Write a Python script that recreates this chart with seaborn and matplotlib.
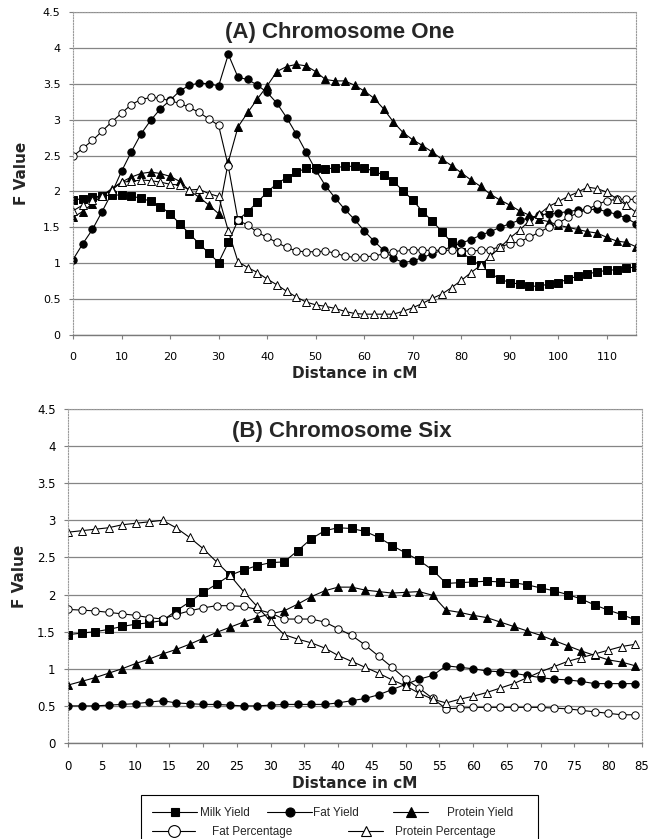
import numpy as np
import pandas as pd
import matplotlib
matplotlib.use("Agg")
import matplotlib.pyplot as plt
from matplotlib.lines import Line2D
from matplotlib.patches import Rectangle
import seaborn as sns

# positions in cM (markers every 2 cM)
pos_a = list(range(0, 117, 2))
pos_b = list(range(0, 85, 2))

series_names = ["Milk Yield", "Fat Yield", "Protein Yield", "Fat Percentage", "Protein Percentage"]

# (A) chromosome one
milk_a = [1.88, 1.90, 1.92, 1.94, 1.95, 1.95, 1.93, 1.91, 1.86, 1.79,
          1.69, 1.55, 1.41, 1.27, 1.14, 1.01, 1.29, 1.60, 1.72, 1.85,
          1.99, 2.11, 2.19, 2.27, 2.32, 2.32, 2.31, 2.33, 2.35, 2.35,
          2.33, 2.28, 2.23, 2.14, 2.01, 1.88, 1.72, 1.59, 1.44, 1.29,
          1.16, 1.05, 0.97, 0.86, 0.78, 0.73, 0.71, 0.68, 0.68, 0.71,
          0.73, 0.78, 0.82, 0.85, 0.88, 0.90, 0.91, 0.93, 0.95]
fat_a = [1.05, 1.27, 1.47, 1.72, 1.98, 2.28, 2.55, 2.80, 2.99, 3.15,
         3.27, 3.40, 3.48, 3.51, 3.50, 3.47, 3.91, 3.59, 3.56, 3.48,
         3.38, 3.23, 3.03, 2.80, 2.55, 2.30, 2.08, 1.91, 1.75, 1.61,
         1.45, 1.31, 1.18, 1.07, 1.01, 1.03, 1.08, 1.13, 1.18, 1.23,
         1.28, 1.33, 1.39, 1.44, 1.50, 1.55, 1.60, 1.63, 1.67, 1.69,
         1.70, 1.72, 1.74, 1.75, 1.75, 1.72, 1.68, 1.63, 1.55]
protein_a = [1.64, 1.72, 1.83, 1.94, 2.04, 2.13, 2.20, 2.25, 2.27, 2.25,
             2.21, 2.14, 2.01, 1.92, 1.81, 1.69, 2.41, 2.90, 3.10, 3.29,
             3.47, 3.67, 3.74, 3.77, 3.75, 3.67, 3.56, 3.54, 3.54, 3.48,
             3.40, 3.30, 3.15, 2.97, 2.82, 2.72, 2.64, 2.55, 2.45, 2.36,
             2.26, 2.16, 2.07, 1.96, 1.88, 1.81, 1.73, 1.67, 1.61, 1.58,
             1.53, 1.50, 1.47, 1.44, 1.42, 1.36, 1.31, 1.29, 1.23]
fatpct_a = [2.49, 2.60, 2.71, 2.84, 2.97, 3.09, 3.21, 3.28, 3.31, 3.30,
            3.26, 3.23, 3.17, 3.10, 3.01, 2.92, 2.35, 1.60, 1.53, 1.43,
            1.36, 1.29, 1.22, 1.17, 1.16, 1.16, 1.17, 1.14, 1.10, 1.08,
            1.09, 1.10, 1.13, 1.16, 1.18, 1.19, 1.18, 1.18, 1.18, 1.18,
            1.17, 1.17, 1.18, 1.19, 1.23, 1.27, 1.30, 1.36, 1.43, 1.50,
            1.56, 1.64, 1.70, 1.75, 1.82, 1.87, 1.89, 1.89, 1.89]
protpct_a = [1.73, 1.81, 1.88, 1.94, 2.02, 2.13, 2.14, 2.16, 2.15, 2.13,
             2.10, 2.09, 2.02, 2.03, 1.97, 1.93, 1.45, 1.02, 0.94, 0.87,
             0.78, 0.70, 0.61, 0.53, 0.46, 0.42, 0.40, 0.37, 0.33, 0.30,
             0.29, 0.29, 0.29, 0.29, 0.33, 0.38, 0.44, 0.51, 0.57, 0.66,
             0.76, 0.87, 0.97, 1.10, 1.22, 1.35, 1.46, 1.59, 1.68, 1.79,
             1.86, 1.93, 1.99, 2.06, 2.04, 1.99, 1.90, 1.81, 1.71]

# (B) chromosome six
milk_b = [1.46, 1.48, 1.50, 1.53, 1.57, 1.60, 1.62, 1.65, 1.78, 1.90,
          2.03, 2.14, 2.26, 2.33, 2.39, 2.43, 2.44, 2.59, 2.75, 2.86,
          2.90, 2.89, 2.85, 2.77, 2.66, 2.56, 2.46, 2.33, 2.15, 2.16,
          2.17, 2.18, 2.17, 2.16, 2.13, 2.09, 2.05, 2.00, 1.94, 1.86,
          1.79, 1.73, 1.66]
fat_b = [0.50, 0.50, 0.50, 0.51, 0.52, 0.53, 0.55, 0.57, 0.54, 0.53,
         0.52, 0.52, 0.51, 0.50, 0.50, 0.51, 0.52, 0.52, 0.52, 0.52,
         0.54, 0.57, 0.60, 0.65, 0.72, 0.79, 0.86, 0.91, 1.04, 1.02,
         1.00, 0.97, 0.96, 0.94, 0.91, 0.88, 0.86, 0.85, 0.83, 0.80,
         0.80, 0.80, 0.80]
protein_b = [0.78, 0.83, 0.88, 0.94, 1.00, 1.07, 1.13, 1.20, 1.26, 1.33,
             1.41, 1.49, 1.56, 1.63, 1.69, 1.74, 1.78, 1.87, 1.97, 2.05,
             2.10, 2.10, 2.06, 2.04, 2.02, 2.03, 2.04, 1.99, 1.79, 1.76,
             1.72, 1.69, 1.63, 1.57, 1.51, 1.45, 1.38, 1.31, 1.24, 1.18,
             1.12, 1.09, 1.04]
fatpct_b = [1.80, 1.79, 1.78, 1.76, 1.74, 1.72, 1.69, 1.67, 1.73, 1.78,
            1.82, 1.85, 1.85, 1.84, 1.80, 1.75, 1.67, 1.67, 1.67, 1.63,
            1.54, 1.45, 1.32, 1.17, 1.02, 0.86, 0.74, 0.60, 0.46, 0.47,
            0.48, 0.48, 0.48, 0.48, 0.48, 0.48, 0.47, 0.46, 0.44, 0.42,
            0.40, 0.38, 0.38]
protpct_b = [2.84, 2.86, 2.88, 2.90, 2.94, 2.96, 2.98, 3.00, 2.90, 2.77,
             2.62, 2.44, 2.26, 2.04, 1.84, 1.64, 1.46, 1.40, 1.35, 1.28,
             1.18, 1.10, 1.02, 0.94, 0.85, 0.77, 0.67, 0.59, 0.54, 0.59,
             0.63, 0.68, 0.74, 0.80, 0.88, 0.96, 1.03, 1.10, 1.15, 1.20,
             1.25, 1.30, 1.33]

yticks = [0, 0.5, 1, 1.5, 2, 2.5, 3, 3.5, 4, 4.5]
ytick_labels = ["0", "0.5", "1", "1.5", "2", "2.5", "3", "3.5", "4", "4.5"]
xticks_a = list(range(0, 111, 10))
xticks_b = list(range(0, 86, 5))

# marker, face colour, size
styles = {
    "Milk Yield": ("s", "black", 5.3),
    "Fat Yield": ("o", "black", 5.3),
    "Protein Yield": ("^", "black", 5.8),
    "Fat Percentage": ("o", "white", 5.3),
    "Protein Percentage": ("^", "white", 5.8),
}

sns.set_style("white")
plt.rcParams['font.family'] = ['DejaVu Sans']

fig = plt.figure(figsize=(6.65, 8.39), dpi=100)
ax_a = fig.add_axes([73 / 665, 1 - 335 / 839, 563 / 665, 323 / 839])
ax_b = fig.add_axes([68 / 665, 1 - 743 / 839, 574 / 665, 334 / 839])


def draw_panel(ax, pos, series, title, xmax, xticks, tsize, title_xy, ylab_x, xlab_y):
    for name, vals in zip(series_names, series):
        marker, face, ms = styles[name]
        df = pd.DataFrame({"cM": pos, "F": vals})
        sns.lineplot(data=df, x="cM", y="F", ax=ax, color="black", lw=0.8,
                     marker=marker, markersize=ms, markerfacecolor=face,
                     markeredgecolor="black", markeredgewidth=0.7,
                     errorbar=None, legend=False)
    ax.set_xlim(0, xmax)
    ax.set_ylim(0, 4.5)
    ax.set_xticks(xticks)
    ax.set_yticks(yticks)
    ax.set_yticklabels(ytick_labels)
    ax.tick_params(axis="both", labelsize=tsize, colors="#7f7f7f", labelcolor="black",
                   length=3, width=0.8, direction="out")
    ax.tick_params(axis="x", bottom=True, pad=9)
    ax.tick_params(axis="y", left=True, pad=6)
    ax.yaxis.grid(True, color="#858585", lw=0.9)
    ax.xaxis.grid(False)
    ax.set_axisbelow(True)
    for s in ["left", "top", "right"]:
        ax.spines[s].set_linestyle((0, (1, 1.5)))
        ax.spines[s].set_color("#9a9a9a")
        ax.spines[s].set_linewidth(0.8)
    ax.spines["bottom"].set_color("#7a7a7a")
    ax.spines["bottom"].set_linewidth(1.0)
    ax.set_xlabel("Distance in cM", fontsize=11, fontweight="bold")
    ax.set_ylabel("F Value", fontsize=11, fontweight="bold")
    ax.xaxis.label.set_va("center")
    ax.yaxis.label.set_va("center")
    ax.xaxis.set_label_coords(0.5, xlab_y)
    ax.yaxis.set_label_coords(ylab_x, 0.5)
    ax.text(title_xy[0], title_xy[1], title, transform=ax.transAxes, ha="center",
            va="center", fontsize=16, fontweight="bold", family="Liberation Sans")


draw_panel(ax_a, pos_a, [milk_a, fat_a, protein_a, fatpct_a, protpct_a],
           "(A) Chromosome One", 116, xticks_a, 8, (0.474, 0.938),
           -51 / 563, -39 / 323)
draw_panel(ax_b, pos_b, [milk_b, fat_b, protein_b, fatpct_b, protpct_b],
           "(B) Chromosome Six", 85, xticks_b, 8.5, (0.477, 0.934),
           -48 / 574, -40 / 334)

# legend, laid out like the spreadsheet one: box plus one entry per slot
fig.add_artist(Rectangle((141 / 665, -0.01), (538 - 141) / 665, 0.01 + (839 - 795) / 839,
                         transform=fig.transFigure, fill=False, edgecolor="black", lw=0.8))
em = 8.5 * 100 / 72
# name: handle start px, handle length px, text start px, row y px, legend marker size
slots = {
    "Milk Yield": (152, 45, 200, 813, 6.0),
    "Fat Yield": (267, 45, 313, 813, 6.5),
    "Protein Yield": (393, 35, 447, 813, 6.5),
    "Fat Percentage": (152, 43, 212, 832, 8.5),
    "Protein Percentage": (348, 35, 395, 832, 7.5),
}
for name, (hx, hl, tx, ry, lms) in slots.items():
    marker, face, _ = styles[name]
    proxy = Line2D([], [], color="black", lw=0.8, marker=marker, markersize=lms,
                   markerfacecolor=face, markeredgecolor="black", markeredgewidth=0.8)
    lg = fig.legend([proxy], [name], loc="center left",
                    bbox_to_anchor=(hx / 665, 1 - ry / 839),
                    prop={"family": "Liberation Sans", "size": 8.5},
                    frameon=False, borderpad=0, borderaxespad=0,
                    handlelength=hl / em, handletextpad=(tx - hx - hl) / em)

fig.savefig("out.png", dpi=100)
